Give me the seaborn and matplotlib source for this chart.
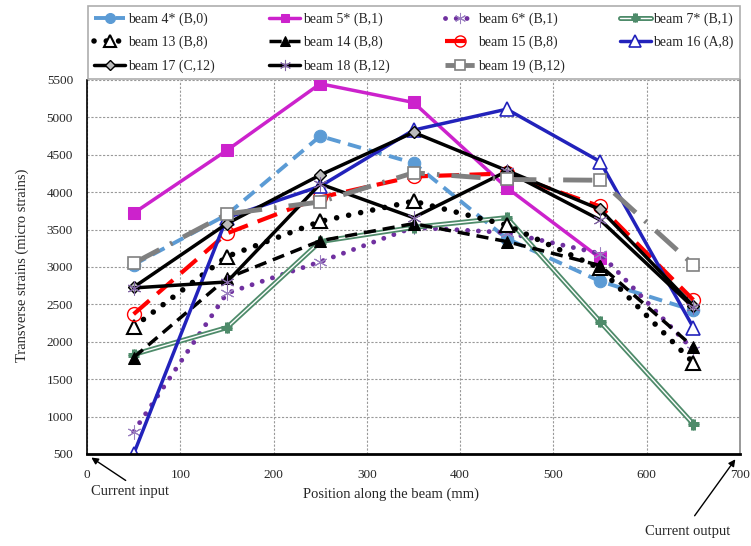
import matplotlib
matplotlib.use("Agg")
import matplotlib.pyplot as plt
import matplotlib.patheffects as pe
import seaborn as sns
import pandas as pd

sns.set_style("white")
plt.rcParams['font.family'] = ['Liberation Serif', 'DejaVu Serif']

positions = [50, 150, 250, 350, 450, 550, 650]

beam4 = [3030, 3700, 4750, 4390, 3380, 2810, 2420]
beam5 = [3720, 4560, 5450, 5200, 4060, 3120]
beam6 = [800, 2650, 3070, 3530, 3460, 3180, 1890]
beam7 = [1830, 2190, 3340, 3530, 3660, 2270, 900]
beam13 = [2200, 3140, 3610, 3880, 3560, 2980, 1720]
beam14 = [1790, 2850, 3350, 3580, 3340, 3020, 1930]
beam15 = [2370, 3450, 3930, 4210, 4250, 3810, 2560]
beam16 = [500, 3660, 4080, 4830, 5110, 4410, 2190]
beam17 = [2730, 3580, 4230, 4800, 4290, 3770, 2480]
beam18 = [2720, 2800, 4110, 3660, 4280, 3630, 2460]
beam19 = [3050, 3710, 3870, 4260, 4170, 4160, 3030]

labels = ["beam 4* (B,0)", "beam 5* (B,1)", "beam 6* (B,1)", "beam 7* (B,1)",
          "beam 13 (B,8)", "beam 14 (B,8)", "beam 15 (B,8)", "beam 16 (A,8)",
          "beam 17 (C,12)", "beam 18 (B,12)", "beam 19 (B,12)"]
series = [beam4, beam5, beam6, beam7, beam13, beam14, beam15, beam16,
          beam17, beam18, beam19]

styles = [
    dict(color='#5B9BD5', linestyle=(0, (3.5, 2)), lw=2.8, marker='o', ms=9,
         mfc='#5B9BD5', mec='#5B9BD5'),
    dict(color='#CC22CC', linestyle='-', lw=2.5, marker='s', ms=8,
         mfc='#CC22CC', mec='#CC22CC'),
    dict(color='#7030A0', linestyle=(0, (0.01, 2.2)), lw=3.5, marker=(6, 2, 0), ms=10,
         mfc='#9A7FC0', mec='#9A7FC0', dash_capstyle='round'),
    dict(color='white', linestyle='-', lw=1.0, marker='+', ms=8,
         mfc='#4E8B6A', mec='#4E8B6A',
         path_effects=[pe.Stroke(linewidth=3.6, foreground='#4E8B6A'), pe.Normal()]),
    dict(color='black', linestyle=(0, (0.01, 2.2)), lw=4, marker='^', ms=10,
         mfc='white', mec='black', mew=1.5, dash_capstyle='round'),
    dict(color='black', linestyle=(0, (3.5, 2)), lw=2.5, marker='^', ms=9,
         mfc='black', mec='black'),
    dict(color='#FF0000', linestyle=(0, (5, 2.5)), lw=3, marker='o', ms=10,
         mfc='none', mec='#FF0000', mew=1),
    dict(color='#2222BB', linestyle='-', lw=2.5, marker='^', ms=10,
         mfc='white', mec='#2222BB', mew=1.2),
    dict(color='black', linestyle='-', lw=2.5, marker='D', ms=6,
         mfc='#BBBBBB', mec='black', mew=1),
    dict(color='black', linestyle='-', lw=2.5, marker=(6, 2, 0), ms=10,
         mfc='#8064A2', mec='#8064A2'),
    dict(color='#808080', linestyle=(0, (6, 2.5, 0.5, 2.5)), lw=3.5, marker='s', ms=9,
         mfc='white', mec='#808080', mew=1.2),
]

fig = plt.figure(figsize=(7.51, 5.46), dpi=100)
ax = fig.add_axes([87/751, (546-454)/546, (740-87)/751, (454-80)/546])

for lab, vals, st in zip(labels, series, styles):
    df = pd.DataFrame({'pos': positions[:len(vals)], 'strain': vals})
    st = dict(st)
    lw = st.pop('lw')
    ms = st.pop('ms')
    sns.lineplot(data=df, x='pos', y='strain', ax=ax, label=lab, sort=False,
                 linewidth=lw, markersize=ms, **st)

ax.set_xlim(0, 700)
ax.set_ylim(500, 5500)
ax.set_xticks(range(0, 701, 100))
ax.set_yticks(range(500, 5501, 500))
ax.grid(True, color='#999999', linestyle=(0, (2, 1.5)), lw=0.8)
ax.set_axisbelow(True)
ax.tick_params(axis='x', length=0, pad=11, labelsize=9.5)
ax.tick_params(axis='y', length=0, pad=10, labelsize=9.5)
ax.set_xlabel("")
ax.set_ylabel("")
for s in ['left', 'bottom']:
    ax.spines[s].set_color('black')
ax.spines['bottom'].set_linewidth(2)
ax.spines['left'].set_linewidth(1.2)
ax.spines['right'].set_color('#888888')
ax.spines['right'].set_linewidth(1.2)
ax.spines['top'].set_visible(False)

handles, labs = ax.get_legend_handles_labels()
ax.get_legend().remove()
order = [0, 4, 8, 1, 5, 9, 2, 6, 10, 3, 7]
leg = fig.legend([handles[i] for i in order], [labs[i] for i in order],
                 loc='lower left', ncol=4, mode='expand',
                 bbox_to_anchor=(88/751, (546-79)/546, (740-88)/751, 73/546),
                 borderaxespad=0,
                 frameon=True, fancybox=False, fontsize=10, handlelength=2.2,
                 handletextpad=0.2, borderpad=0.45, labelspacing=0.72,
                 columnspacing=0.5, markerscale=0.8)
leg.get_frame().set_edgecolor('#999999')
leg.get_frame().set_linewidth(1.2)

fig.text(22/751, 1-265/546, "Transverse strains (micro strains)", rotation=90,
         ha='center', va='center', fontsize=10.5)
fig.text(391/751, 1-494/546, "Position along the beam (mm)", ha='center',
         va='center', fontsize=10.5)
fig.text(130/751, 1-491/546, "Current input", ha='center', va='center', fontsize=10.5)
fig.text(688/751, 1-532/546, "Current output", ha='center', va='center', fontsize=10.5)

ax.annotate('', xy=(89, 546-456), xycoords='figure pixels',
            xytext=(128, 546-482), textcoords='figure pixels',
            arrowprops=dict(arrowstyle='-|>', color='black', lw=1, mutation_scale=10))
ax.annotate('', xy=(737, 546-457), xycoords='figure pixels',
            xytext=(693, 546-518), textcoords='figure pixels',
            arrowprops=dict(arrowstyle='-|>', color='black', lw=1, mutation_scale=10))

fig.savefig("out.png", dpi=100)
